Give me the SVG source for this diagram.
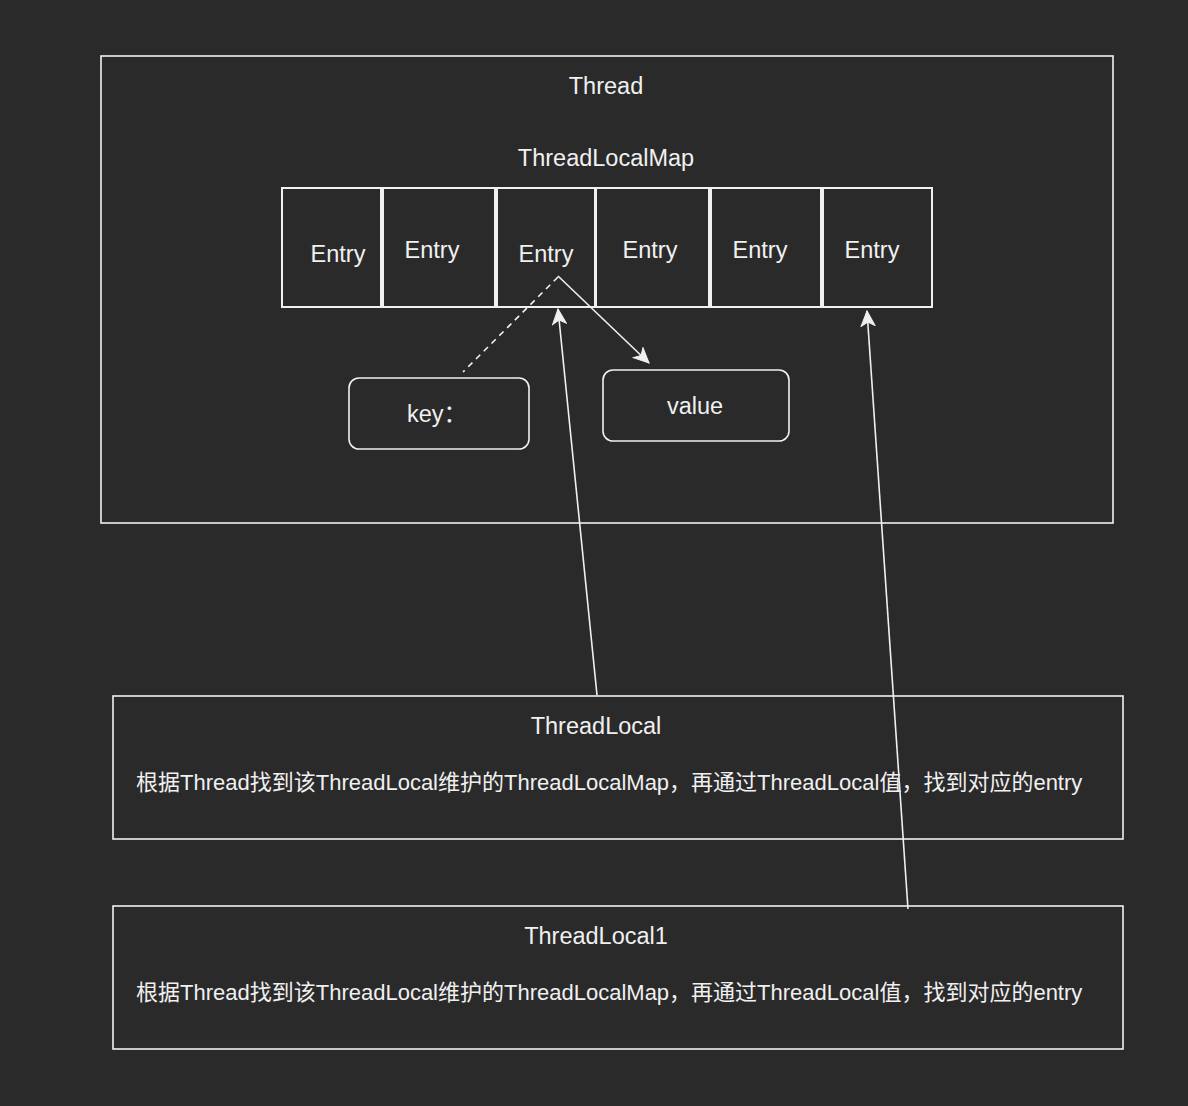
<svg xmlns="http://www.w3.org/2000/svg" width="1188" height="1106" viewBox="0 0 1188 1106">
<defs>
<style>
.bx{fill:#2a2a2a;stroke:#f0f0f0;stroke-width:1.6}
.cell{fill:#2a2a2a;stroke:#f0f0f0;stroke-width:2}
.t{font-family:"Liberation Sans","Noto Sans CJK SC",sans-serif;font-size:23.5px;fill:#f0f0f0;text-anchor:middle}
.tl{font-family:"Liberation Sans","Noto Sans CJK SC",sans-serif;font-size:22px;fill:#f0f0f0}
.ln{stroke:#f0f0f0;stroke-width:1.6;fill:none}
</style>
<marker id="arr" markerUnits="userSpaceOnUse" markerWidth="20" markerHeight="16" viewBox="0 0 20 16" refX="16" refY="8" orient="auto">
<path d="M1,1 L16,8 L1,15 L5,8 Z" fill="#f0f0f0" stroke="#f0f0f0" stroke-width="1"/>
</marker>
</defs>
<rect width="1188" height="1106" fill="#2a2a2a"/>
<g id="thread">
<rect class="bx" x="101" y="56" width="1012" height="467"/>
<text class="t" x="606" y="94">Thread</text>
</g>
<g id="threadlocalmap">
<text class="t" x="606" y="166">ThreadLocalMap</text>
</g>
<g id="entry1"><rect class="cell" x="282" y="188" width="99" height="119"/><text class="t" x="338" y="262">Entry</text></g>
<g id="entry2"><rect class="cell" x="383" y="188" width="112" height="119"/><text class="t" x="432" y="258">Entry</text></g>
<g id="entry3"><rect class="cell" x="497" y="188" width="98" height="119"/><text class="t" x="546" y="262">Entry</text></g>
<g id="entry4"><rect class="cell" x="596" y="188" width="113" height="119"/><text class="t" x="650" y="258">Entry</text></g>
<g id="entry5"><rect class="cell" x="711" y="188" width="110" height="119"/><text class="t" x="760" y="258">Entry</text></g>
<g id="entry6"><rect class="cell" x="823" y="188" width="109" height="119"/><text class="t" x="872" y="258">Entry</text></g>
<g id="key"><rect class="bx" x="349" y="378" width="180" height="71" rx="10"/><text class="t" x="437" y="422">key：</text></g>
<g id="value"><rect class="bx" x="603" y="370" width="186" height="71" rx="10"/><text class="t" x="695" y="414">value</text></g>
<g id="threadlocal">
<rect class="bx" x="113" y="696" width="1010" height="143"/>
<text class="t" x="596" y="734">ThreadLocal</text>
<text class="tl" x="136" y="790">根据Thread找到该ThreadLocal维护的ThreadLocalMap，再通过ThreadLocal值，找到对应的entry</text>
</g>
<g id="threadlocal1">
<rect class="bx" x="113" y="906" width="1010" height="143"/>
<text class="t" x="596" y="944">ThreadLocal1</text>
<text class="tl" x="136" y="1000">根据Thread找到该ThreadLocal维护的ThreadLocalMap，再通过ThreadLocal值，找到对应的entry</text>
</g>
<g id="connectors">
<line class="ln" x1="558" y1="277" x2="463" y2="372" stroke-dasharray="6,5"/>
<line class="ln" x1="558" y1="276" x2="649" y2="363" marker-end="url(#arr)"/>
<line class="ln" x1="597" y1="695" x2="558" y2="309" marker-end="url(#arr)"/>
<line class="ln" x1="908" y1="909" x2="867" y2="311" marker-end="url(#arr)"/>
</g>
</svg>
